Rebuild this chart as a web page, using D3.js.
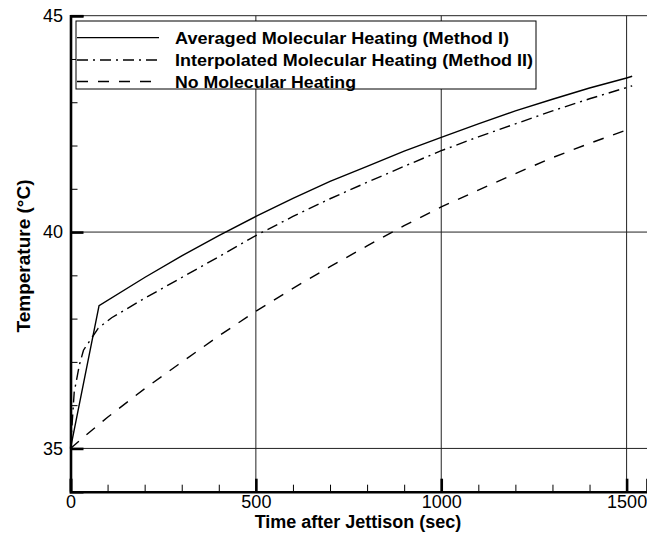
<!DOCTYPE html>
<html>
<head>
<meta charset="utf-8">
<script src="https://cdn.jsdelivr.net/npm/d3@7"></script>
<style>
  html, body { margin: 0; padding: 0; background: #fff; }
  svg { display: block; }
  text { font-family: "Liberation Sans", Arial, sans-serif; fill: #000; }
</style>
</head>
<body>
<svg id="chart" width="647" height="535"></svg>
<script>
// ---- Data ----
const timeAveraged = [0, 77, 200, 300, 400, 500, 600, 700, 800, 900, 1000, 1100, 1200, 1300, 1400, 1500, 1515];
const tempAveraged = [35, 38.30, 38.95, 39.45, 39.92, 40.36, 40.78, 41.17, 41.52, 41.87, 42.19, 42.50, 42.80, 43.07, 43.33, 43.56, 43.60];

const timeInterp = [0, 10, 24, 35, 57, 75, 111, 200, 300, 400, 500, 600, 700, 800, 900, 1000, 1100, 1200, 1300, 1400, 1500, 1515];
const tempInterp = [35, 36.30, 36.93, 37.27, 37.55, 37.78, 38.02, 38.47, 38.95, 39.43, 39.92, 40.36, 40.77, 41.15, 41.52, 41.88, 42.20, 42.50, 42.80, 43.08, 43.34, 43.38];

const timeNone = [0, 52, 100, 200, 291, 400, 500, 600, 700, 800, 900, 1000, 1100, 1200, 1300, 1400, 1500, 1515];
const tempNone = [35, 35.38, 35.72, 36.38, 36.94, 37.60, 38.17, 38.70, 39.20, 39.68, 40.15, 40.58, 40.97, 41.35, 41.72, 42.05, 42.36, 42.40];

const seriesNames = ["Averaged Molecular Heating (Method I)",
                     "Interpolated Molecular Heating (Method II)",
                     "No Molecular Heating"];
const xMajorTicks = [0, 500, 1000, 1500];
const yMajorTicks = [35, 40, 45];
const xTitle = "Time after Jettison (sec)";
const yTitle = "Temperature (\u00B0C)";

// ---- Layout ----
const svg = d3.select("#chart");
const pLeft = 70.5, pRight = 647, pTop = 15.7, pBottom = 491.7;
const x = d3.scaleLinear().domain([0, 1555]).range([pLeft, pRight]);
const y = d3.scaleLinear().domain([34, 45]).range([pBottom, pTop]);

const series = [
  { name: seriesNames[0], t: timeAveraged, v: tempAveraged, dash: null },
  { name: seriesNames[1], t: timeInterp, v: tempInterp, dash: "11,5,2,5" },
  { name: seriesNames[2], t: timeNone, v: tempNone, dash: "11,10" }
];

// Grid lines
const grid = svg.append("g").attr("stroke", "#222").attr("stroke-width", 1);
grid.selectAll("line.h").data(yMajorTicks).join("line").attr("class", "h")
  .attr("x1", pLeft).attr("x2", pRight)
  .attr("y1", d => y(d)).attr("y2", d => y(d));
grid.selectAll("line.v").data(xMajorTicks.filter(d => d > 0)).join("line").attr("class", "v")
  .attr("x1", d => x(d)).attr("x2", d => x(d))
  .attr("y1", pTop).attr("y2", pBottom);

// Data lines
const line = d3.line().x(d => x(d[0])).y(d => y(d[1]));
svg.append("g").selectAll("path").data(series).join("path")
  .attr("fill", "none").attr("stroke", "#000").attr("stroke-width", 1.4)
  .attr("stroke-dasharray", d => d.dash)
  .attr("d", d => line(d.t.map((t, i) => [t, d.v[i]])));

// Axes (ticks inside)
const xMinor = d3.range(0, 1501, 100);
const yMinor = d3.range(34, 45.01, 1);

const xAxisMinor = d3.axisBottom(x).tickValues(xMinor).tickSize(-7).tickFormat("");
const xAxisMajor = d3.axisBottom(x).tickValues(xMajorTicks).tickSize(-13).tickPadding(4).tickFormat(d3.format("d"));
const yAxisMinor = d3.axisLeft(y).tickValues(yMinor).tickSize(-7).tickFormat("");
const yAxisMajor = d3.axisLeft(y).tickValues(yMajorTicks).tickSize(-13).tickPadding(7.5).tickFormat(d3.format("d"));

const gxm = svg.append("g").attr("transform", `translate(0,${pBottom})`).call(xAxisMinor);
gxm.select(".domain").remove();
gxm.selectAll(".tick line").attr("stroke", "#000").attr("stroke-width", 1);

const gxM = svg.append("g").attr("transform", `translate(0,${pBottom})`).call(xAxisMajor);
gxM.select(".domain").attr("stroke", "#000").attr("stroke-width", 2.6);
gxM.selectAll(".tick line").attr("stroke", "#000").attr("stroke-width", 2.6);
gxM.selectAll(".tick text").attr("font-size", 18).attr("font-family", "Liberation Sans, Arial, sans-serif").attr("fill", "#000");

const gym = svg.append("g").attr("transform", `translate(${pLeft},0)`).call(yAxisMinor);
gym.select(".domain").remove();
gym.selectAll(".tick line").attr("stroke", "#000").attr("stroke-width", 1);

const gyM = svg.append("g").attr("transform", `translate(${pLeft},0)`).call(yAxisMajor);
gyM.select(".domain").attr("stroke", "#000").attr("stroke-width", 2.6);
gyM.selectAll(".tick line").attr("stroke", "#000").attr("stroke-width", 2.6);
gyM.selectAll(".tick text").attr("font-size", 18).attr("font-family", "Liberation Sans, Arial, sans-serif").attr("fill", "#000");

// Axis titles
svg.append("text").attr("x", 358).attr("y", 528).attr("text-anchor", "middle")
  .attr("font-size", 18).attr("font-weight", "bold").text(xTitle);
svg.append("text").attr("transform", "translate(30,256) rotate(-90)").attr("text-anchor", "middle")
  .attr("font-size", 19).attr("font-weight", "bold").text(yTitle);

// Legend
const lg = svg.append("g");
lg.append("rect").attr("x", 76).attr("y", 21).attr("width", 460).attr("height", 68)
  .attr("fill", "#fff").attr("stroke", "#000").attr("stroke-width", 1);
const rowY = [37.7, 60, 81.5];
const textW = [334, 358, 181];
series.forEach((s, i) => {
  lg.append("line").attr("x1", 77).attr("x2", 159).attr("y1", rowY[i]).attr("y2", rowY[i])
    .attr("stroke", "#000").attr("stroke-width", 1.3).attr("stroke-dasharray", s.dash);
  lg.append("text").attr("x", 175).attr("y", rowY[i] + 6)
    .attr("font-size", 17).attr("font-weight", "bold")
    .attr("textLength", textW[i]).attr("lengthAdjust", "spacingAndGlyphs")
    .text(s.name);
});
</script>
</body>
</html>
